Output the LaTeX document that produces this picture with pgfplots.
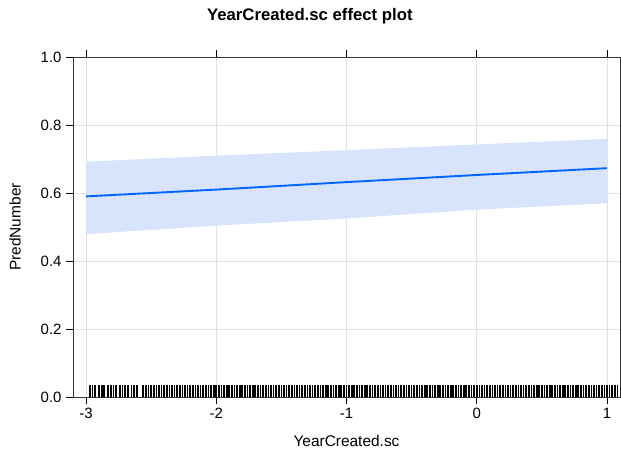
\documentclass[border=0pt]{standalone}
\usepackage{fontspec}
\setmainfont{Liberation Sans}
\usepackage{pgfplots}
\pgfplotsset{compat=1.18}
\definecolor{fitblue}{RGB}{0,102,255}
\definecolor{bandblue}{RGB}{216,228,252}
\definecolor{gridgray}{RGB}{225,225,225}
\begin{document}
\begin{tikzpicture}
\begin{axis}[
  width=547bp, height=340bp, scale only axis,
  xmin=-3.1, xmax=1.1, ymin=0, ymax=1,
  xtick={-3,-2,-1,0,1}, xticklabels={-3,-2,-1,0,1},
  ytick={0,0.2,0.4,0.6,0.8,1.0}, yticklabels={0.0,0.2,0.4,0.6,0.8,1.0},
  tick align=outside, tick pos=both, major tick length=7bp,
  tick style={line width=0.8bp, black},
  grid=major, grid style={gridgray, line width=0.6bp},
  axis line style={line width=0.8bp, black!80},
  ticklabel style={font=\fontsize{15}{17}\selectfont},
  xticklabel style={yshift=-1bp},
  yticklabel style={xshift=-1bp},
  label style={font=\fontsize{15.5}{18}\selectfont},
  xlabel={YearCreated.sc}, ylabel={PredNumber},
  xlabel style={at={(axis description cs:0.5,-0.128)}, anchor=center},
  ylabel style={at={(axis description cs:-0.106,0.5)}, anchor=center},
  title={\bfseries YearCreated.sc effect plot},
  title style={font=\fontsize{16.8}{19}\selectfont, at={(axis description cs:0.433,1)}, anchor=center, yshift=35bp},
]
\coordinate (bl) at (rel axis cs:0,0);
\coordinate (tr) at (rel axis cs:1,1);
\addplot[fill=bandblue, draw=none] coordinates {
  (-3,0.479) (-2,0.504) (-1,0.525) (0,0.551) (1,0.570)
  (1,0.759) (0,0.743) (-1,0.726) (-2,0.710) (-3,0.692)} -- cycle;
\addplot[fitblue, line width=1.9bp, mark=none] coordinates {
  (-3,0.590) (-2,0.610) (-1,0.632) (0,0.653) (1,0.673)};
\addplot[ycomb, black, line width=1.7bp, mark=none] table[row sep=\\, x index=0, y expr=0.034] {
x\\
-2.97\\-2.95\\-2.93\\-2.90\\-2.88\\-2.86\\-2.83\\-2.81\\-2.79\\-2.77\\-2.74\\-2.72\\-2.70\\-2.68\\-2.65\\-2.63\\-2.61\\-2.56\\-2.54\\-2.52\\-2.50\\
-2.48\\-2.46\\-2.44\\-2.42\\-2.40\\-2.38\\-2.36\\-2.34\\-2.32\\-2.30\\-2.28\\-2.26\\-2.24\\-2.22\\-2.20\\-2.18\\-2.16\\-2.14\\-2.12\\-2.10\\
-2.08\\-2.06\\-2.04\\-2.02\\-2.00\\-1.98\\-1.96\\-1.94\\-1.92\\-1.90\\-1.88\\-1.86\\-1.84\\-1.82\\-1.80\\-1.78\\-1.76\\-1.74\\-1.72\\-1.70\\
-1.68\\-1.66\\-1.64\\-1.62\\-1.60\\-1.58\\-1.56\\-1.54\\-1.52\\-1.50\\-1.48\\-1.46\\-1.44\\-1.42\\-1.40\\-1.38\\-1.36\\-1.34\\-1.32\\-1.30\\
-1.28\\-1.26\\-1.24\\-1.22\\-1.20\\-1.18\\-1.16\\-1.14\\-1.12\\-1.10\\-1.08\\-1.06\\-1.04\\-1.02\\-1.00\\
-0.98\\-0.96\\-0.94\\-0.92\\-0.90\\-0.88\\-0.86\\-0.84\\-0.82\\-0.80\\-0.78\\-0.76\\-0.74\\-0.72\\-0.70\\-0.68\\-0.66\\-0.64\\-0.62\\-0.60\\
-0.58\\-0.56\\-0.54\\-0.52\\-0.50\\-0.48\\-0.46\\-0.44\\-0.42\\-0.40\\-0.38\\-0.36\\-0.34\\-0.32\\-0.30\\-0.28\\-0.26\\-0.24\\-0.22\\-0.20\\
-0.18\\-0.16\\-0.14\\-0.12\\-0.10\\-0.08\\-0.06\\-0.04\\-0.02\\0.00\\0.02\\0.04\\0.06\\0.08\\0.10\\0.12\\0.14\\0.16\\0.18\\0.20\\
0.22\\0.24\\0.26\\0.28\\0.30\\0.32\\0.34\\0.36\\0.38\\0.40\\0.42\\0.44\\0.46\\0.48\\0.50\\0.52\\0.54\\0.56\\0.58\\0.60\\
0.62\\0.64\\0.66\\0.68\\0.70\\0.72\\0.74\\0.76\\0.78\\0.80\\0.82\\0.84\\0.86\\0.88\\0.90\\0.92\\0.94\\0.96\\0.98\\1.00\\
1.02\\1.04\\1.06\\1.08\\
};
\end{axis}
\pgfresetboundingbox
\path ([shift={(-73bp,-58bp)}]bl) rectangle ([shift={(1bp,57bp)}]tr);
\end{tikzpicture}
\end{document}
